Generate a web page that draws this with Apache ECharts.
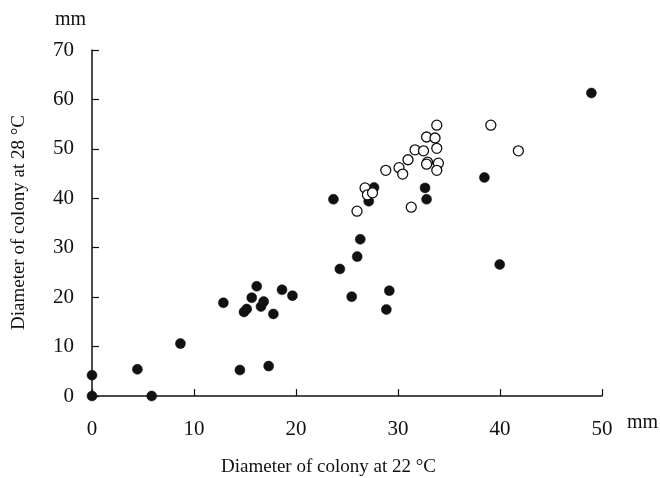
<!DOCTYPE html>
<html>
<head>
<meta charset="utf-8">
<script src="https://cdn.jsdelivr.net/npm/echarts@6/dist/echarts.min.js"></script>
<style>html,body{margin:0;padding:0;background:#fff}#c{width:660px;height:478px}</style>
</head>
<body>
<div id="c"></div>
<script>
// Diameter of colony at 22 °C (x) vs 28 °C (y), mm
const filledX = [0, 0, 4.45, 5.85, 8.67, 12.88, 14.5, 14.9, 15.17, 15.66, 16.15, 16.57, 16.83, 17.32, 17.78, 18.63, 19.65, 23.67, 24.3, 25.46, 26.0, 26.3, 27.13, 27.65, 28.86, 29.15, 32.65, 32.8, 38.47, 39.97, 48.96];
const filledY = [4.2, 0, 5.4, 0, 10.6, 18.85, 5.25, 17.0, 17.6, 19.9, 22.2, 18.1, 19.1, 6.05, 16.6, 21.5, 20.3, 39.8, 25.7, 20.1, 28.2, 31.7, 39.4, 42.2, 17.5, 21.3, 42.1, 39.8, 44.2, 26.6, 61.3];
const openX = [33.8, 39.1, 32.8, 33.63, 33.8, 31.67, 32.5, 41.8, 30.98, 32.9, 32.8, 33.96, 28.8, 30.1, 30.46, 33.8, 26.77, 27.0, 27.5, 25.98, 31.3];
const openY = [54.8, 54.8, 52.4, 52.2, 50.1, 49.8, 49.6, 49.6, 47.8, 47.3, 46.9, 47.1, 45.65, 46.2, 44.9, 45.65, 42.1, 40.7, 41.1, 37.4, 38.2];
const xTicks = [0, 10, 20, 30, 40, 50];
const yTicks = [0, 10, 20, 30, 40, 50, 60, 70];
const xTitle = 'Diameter of colony at 22 °C';
const yTitle = 'Diameter of colony at 28 °C';
const unit = 'mm';

const font = '"Liberation Serif", "DejaVu Serif", serif';
const chart = echarts.init(document.getElementById('c'));
const pair = (xs, ys) => xs.map((x, i) => [x, ys[i]]);

chart.setOption({
  animation: false,
  backgroundColor: '#fff',
  grid: {left: 92, right: 58, top: 50, bottom: 82},
  xAxis: {
    type: 'value', min: xTicks[0], max: xTicks[xTicks.length - 1], interval: 10,
    axisLine: {show: true, lineStyle: {color: '#111', width: 1.5}},
    axisTick: {show: true, inside: true, length: 7, lineStyle: {color: '#111', width: 1.2}},
    axisLabel: {margin: 23, color: '#111', fontFamily: font, fontSize: 21},
    splitLine: {show: false}
  },
  yAxis: {
    type: 'value', min: yTicks[0], max: yTicks[yTicks.length - 1], interval: 10,
    axisLine: {show: true, lineStyle: {color: '#111', width: 1.5}},
    axisTick: {show: true, inside: true, length: 7, lineStyle: {color: '#111', width: 1.2}},
    axisLabel: {margin: 18, color: '#111', fontFamily: font, fontSize: 21},
    splitLine: {show: false}
  },
  series: [
    {type: 'scatter', data: pair(filledX, filledY), symbol: 'circle', symbolSize: 10, clip: false,
     itemStyle: {color: '#111', borderColor: '#111', borderWidth: 0.5, opacity: 1}},
    {type: 'scatter', data: pair(openX, openY), symbol: 'circle', symbolSize: 10, clip: false,
     itemStyle: {color: '#fff', borderColor: '#111', borderWidth: 1.3, opacity: 1}}
  ],
  graphic: [
    {type: 'text', left: 221, top: 458, style: {text: xTitle, font: '19px ' + font, fill: '#111'}},
    {type: 'text', x: 10, y: 330, rotation: Math.PI / 2, style: {text: yTitle, font: '19px ' + font, fill: '#111'}},
    {type: 'text', left: 55, top: 10, style: {text: unit, font: '20px ' + font, fill: '#111'}},
    {type: 'text', left: 627, top: 413, style: {text: unit, font: '20px ' + font, fill: '#111'}}
  ]
});
</script>
</body>
</html>
